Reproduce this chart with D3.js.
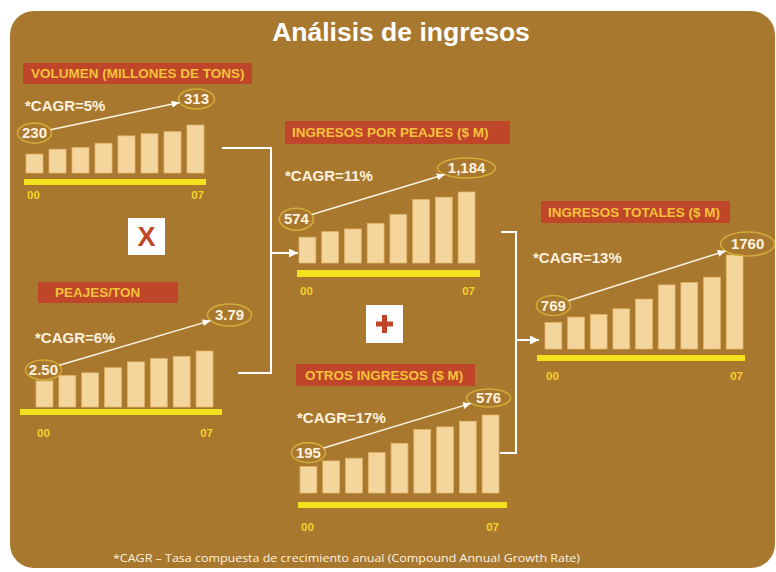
<!DOCTYPE html>
<html>
<head>
<meta charset="utf-8">
<script src="https://cdn.jsdelivr.net/npm/d3@7/dist/d3.min.js"></script>
<style>
  body { margin: 0; background: #fff; }
  svg { display: block; font-family: "Liberation Sans", Arial, sans-serif; }
</style>
</head>
<body>
<svg id="chart" width="776" height="572"></svg>
<script>
// ---- data ----
const years8 = ["00", "01", "02", "03", "04", "05", "06", "07"];
const years9 = ["00", "01", "02", "03", "04", "05", "06", "07", "08"];
const axisLabels = ["00", "07"];

const volumen = [230, 244, 249, 261, 282, 288, 294, 313];
const peajesTon = [2.50, 2.74, 2.85, 3.07, 3.32, 3.47, 3.56, 3.79];
const ingresosPeajes = [574, 649, 685, 761, 882, 1083, 1114, 1184];
const otrosIngresos = [195, 237, 257, 298, 367, 469, 488, 530, 576];
const ingresosTotales = [769, 848, 886, 970, 1112, 1321, 1355, 1434, 1760];

const titles = ["VOLUMEN (MILLONES DE TONS)", "PEAJES/TON", "INGRESOS POR PEAJES ($ M)", "OTROS INGRESOS ($ M)", "INGRESOS TOTALES ($ M)"];
const cagr = ["5%", "6%", "11%", "17%", "13%"];
const startLabels = ["230", "2.50", "574", "195", "769"];
const endLabels = ["313", "3.79", "1,184", "576", "1760"];
const baselines = [176, 1.38, 226, 0, 380]; // bars do not start at zero

const series = [volumen, peajesTon, ingresosPeajes, otrosIngresos, ingresosTotales];
const cats = [years8, years8, years8, years9, years9];

// ---- layout ----
const layout = [
  { x0: 26, x1: 204, base: 173, top: 125, axis: [24, 206, 179, 6], box: [23, 63, 229, 21], tx: 31, cagr: [25, 111], lblY: 199,
    s: { dx: 0, dy: -21, rx: 17, ry: 10 }, e: { dx: 1, dy: -26, rx: 18, ry: 10 } },
  { x0: 36, x1: 213, base: 407, top: 351, axis: [20, 222, 409, 6], box: [38, 282, 140, 21], tx: 55, cagr: [35, 343], lblY: 437,
    s: { dx: -1, dy: -11, rx: 18, ry: 10 }, e: { dx: 25, dy: -36, rx: 22, ry: 11 } },
  { x0: 299, x1: 475, base: 263, top: 192, axis: [297, 480, 270, 7], box: [285, 121, 225, 23], tx: 292, cagr: [285, 181], lblY: 295,
    s: { dx: -11, dy: -18, rx: 17, ry: 11 }, e: { dx: 0, dy: -24, rx: 29, ry: 10 } },
  { x0: 300, x1: 499, base: 493, top: 415, axis: [298, 507, 502, 6], box: [296, 364, 179, 22], tx: 305, cagr: [297, 423], lblY: 531,
    s: { dx: 0, dy: -14, rx: 17, ry: 10 }, e: { dx: -2, dy: -17, rx: 22, ry: 9 } },
  { x0: 545, x1: 743, base: 349, top: 255, axis: [537, 745, 355, 6], box: [541, 201, 189, 22], tx: 548, cagr: [533, 263], lblY: 380,
    s: { dx: 0, dy: -17, rx: 17, ry: 10 }, e: { dx: 13, dy: -11, rx: 27, ry: 12 } }
];

const C = {
  panel: "#a8782f", bar: "#f4d59c", barEdge: "#e2b468", axis: "#f2e21e", box: "#bf4629",
  boxText: "#f4c23a", tick: "#f3d22c", cream: "#fff3df", ring: "#d2aa3a", white: "#ffffff"
};

const svg = d3.select("#chart");

// background panel
svg.append("rect").attr("x", 10).attr("y", 11).attr("width", 765).attr("height", 557)
  .attr("rx", 24).attr("fill", C.panel);

svg.append("text").attr("x", 401).attr("y", 41).attr("text-anchor", "middle")
  .attr("font-size", 26.5).attr("font-weight", "bold").attr("fill", C.white)
  .text("Análisis de ingresos");

const defs = svg.append("defs");
function marker(id, w, h) {
  defs.append("marker").attr("id", id).attr("markerUnits", "userSpaceOnUse")
    .attr("markerWidth", w).attr("markerHeight", h).attr("refX", w).attr("refY", h / 2)
    .attr("orient", "auto")
    .append("path").attr("d", `M0,0L${w},${h / 2}L0,${h}z`).attr("fill", C.white);
}
marker("tip", 8, 7);
marker("tipBig", 9, 9);

// ---- connectors ----
const conn = svg.append("g").attr("fill", "none").attr("stroke", C.white).attr("stroke-width", 2);
conn.append("path").attr("d", "M222,148H271V373H238");
conn.append("path").attr("d", "M271,253H298").attr("marker-end", "url(#tipBig)");
conn.append("path").attr("d", "M501,232H516V453H500");
conn.append("path").attr("d", "M516,340H539").attr("marker-end", "url(#tipBig)");

// operator boxes
svg.append("rect").attr("x", 128).attr("y", 218).attr("width", 37).attr("height", 37).attr("fill", C.white);
svg.append("text").attr("x", 146.5).attr("y", 246).attr("text-anchor", "middle")
  .attr("font-size", 27).attr("font-weight", "bold").attr("fill", C.box).text("X");
svg.append("rect").attr("x", 366).attr("y", 305).attr("width", 37).attr("height", 38).attr("fill", C.white);
svg.append("path").attr("d", "M384.5,315V333M376,324H393").attr("stroke", C.box).attr("stroke-width", 5);

// ---- panels ----
series.forEach((vals, i) => {
  const L = layout[i];
  const g = svg.append("g");

  const x = d3.scaleBand().domain(cats[i]).range([L.x0, L.x1]).paddingInner(0.26).paddingOuter(0);
  const y = d3.scaleLinear().domain([baselines[i], d3.max(vals)]).range([L.base, L.top]);

  // title box
  g.append("rect").attr("x", L.box[0]).attr("y", L.box[1]).attr("width", L.box[2]).attr("height", L.box[3])
    .attr("fill", C.box);
  g.append("text").attr("x", L.tx).attr("y", L.box[1] + L.box[3] / 2 + 4.8)
    .attr("font-size", 13.5).attr("font-weight", "bold").attr("fill", C.boxText).text(titles[i]);

  // bars
  g.selectAll(".bar").data(vals).enter().append("rect")
    .attr("x", (d, j) => x(cats[i][j]))
    .attr("y", d => y(d))
    .attr("width", x.bandwidth())
    .attr("height", d => y(baselines[i]) - y(d))
    .attr("fill", C.bar).attr("stroke", C.barEdge).attr("stroke-width", 0.8);

  // yellow base line
  g.append("rect").attr("x", L.axis[0]).attr("y", L.axis[2]).attr("width", L.axis[1] - L.axis[0])
    .attr("height", L.axis[3]).attr("fill", C.axis);

  // end tick labels
  const first = cats[i][0], last = cats[i][cats[i].length - 1];
  g.append("text").attr("x", x(first) + 1).attr("y", L.lblY)
    .attr("font-size", 11.5).attr("font-weight", "bold").attr("fill", C.tick).text(axisLabels[0]);
  g.append("text").attr("x", x(last) + x.bandwidth()).attr("y", L.lblY).attr("text-anchor", "end")
    .attr("font-size", 11.5).attr("font-weight", "bold").attr("fill", C.tick).text(axisLabels[1]);

  // CAGR
  g.append("text").attr("x", L.cagr[0]).attr("y", L.cagr[1])
    .attr("font-size", 15).attr("font-weight", "bold").attr("fill", C.cream).text("*CAGR=" + cagr[i]);

  // start / end rings
  const sx = x(first) + x.bandwidth() / 2 + L.s.dx, sy = y(vals[0]) + L.s.dy;
  const ex = x(last) + x.bandwidth() / 2 + L.e.dx, ey = y(vals[vals.length - 1]) + L.e.dy;
  [[sx, sy, L.s, startLabels[i]], [ex, ey, L.e, endLabels[i]]].forEach(([cx, cy, r, t]) => {
    g.append("ellipse").attr("cx", cx).attr("cy", cy).attr("rx", r.rx).attr("ry", r.ry)
      .attr("fill", "none").attr("stroke", C.ring).attr("stroke-width", 1.6);
    g.append("text").attr("x", cx).attr("y", cy + 5).attr("text-anchor", "middle")
      .attr("font-size", 15).attr("font-weight", "bold").attr("fill", C.cream).text(t);
  });

  // arrow between rings
  const dx = ex - sx, dy = ey - sy;
  const ts = 1 / Math.sqrt((dx / L.s.rx) ** 2 + (dy / L.s.ry) ** 2);
  const te = 1 / Math.sqrt((dx / L.e.rx) ** 2 + (dy / L.e.ry) ** 2);
  g.append("line")
    .attr("x1", sx + dx * ts).attr("y1", sy + dy * ts)
    .attr("x2", ex - dx * te).attr("y2", ey - dy * te)
    .attr("stroke", C.cream).attr("stroke-width", 1.5).attr("marker-end", "url(#tip)");
});

// footnote
svg.append("text").attr("x", 113).attr("y", 562)
  .attr("font-family", "'Liberation Sans Narrow', 'Open Sans', sans-serif")
  .attr("font-size", 11).attr("fill", C.cream)
  .attr("textLength", 467).attr("lengthAdjust", "spacingAndGlyphs")
  .text("*CAGR – Tasa compuesta de crecimiento anual (Compound Annual Growth Rate)");
</script>
</body>
</html>
